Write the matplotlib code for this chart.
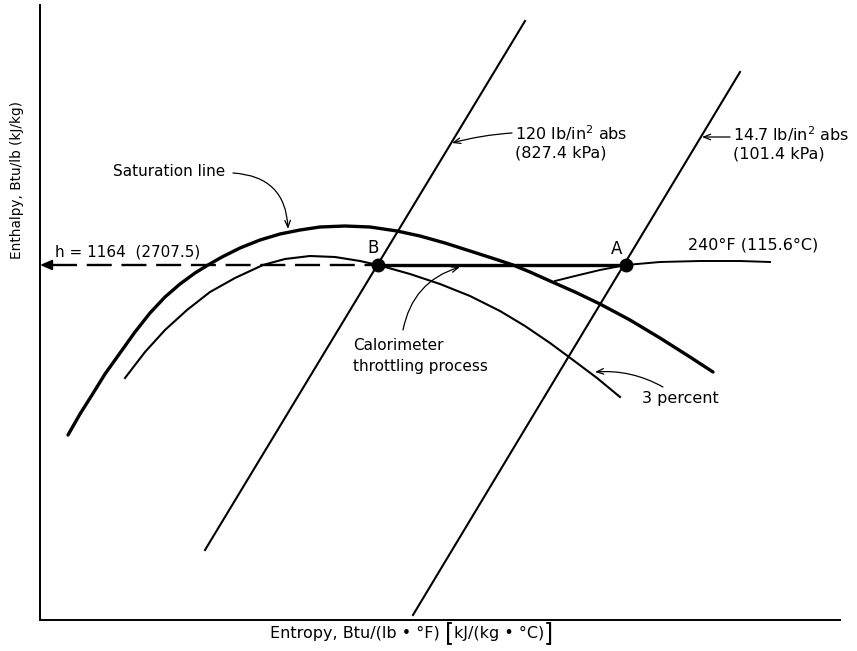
"""
Mollier (h-s) sketch of a throttling calorimeter process.

Schematic only: the values below are read off the reference drawing in
arbitrary entropy / enthalpy units (no ticks on either axis).
"""

import matplotlib

matplotlib.use("Agg")
import matplotlib.pyplot as plt

plt.rcParams["font.family"] = ["DejaVu Sans"]
plt.rcParams["lines.scale_dashes"] = False

# ---------------------------------------------------------------------------
# Data (schematic units)
# ---------------------------------------------------------------------------

# saturation line (thick dome)
sat_s = [28, 40, 52, 65, 80, 95, 110, 125, 140, 155, 168, 182, 200, 220, 240,
         260, 280, 305, 330, 357, 380, 405, 430, 455, 473, 490, 510, 535, 560,
         590, 620, 650, 673]
sat_h = [185, 206, 225, 246, 267, 288, 307, 323, 336, 347, 355, 363, 372, 380,
         386, 390, 393, 394, 393, 389, 384, 377, 369, 361, 355, 348, 339, 328,
         316, 300, 282, 263, 248]

# 3 percent moisture line
moist_s = [85, 105, 125, 147, 170, 195, 223, 245, 270, 295, 320, 338, 370,
           400, 430, 460, 485, 510, 533, 557, 580]
moist_h = [242, 268, 290, 310, 328, 342, 355, 361, 364, 363, 359, 355, 346,
           336, 324, 309, 294, 277, 260, 242, 223]

# 240 F isotherm
iso_s = [515, 535, 560, 586, 620, 660, 700, 730]
iso_h = [339, 344, 350, 355, 358, 359, 359, 358]

# constant pressure lines (end points)
p120_s = [165, 485]
p120_h = [70, 599]
p147_s = [373, 700]
p147_h = [5, 548]

# state points
h_const = 355
point_A = (586, h_const)
point_B = (338, h_const)

# ---------------------------------------------------------------------------
# Figure
# ---------------------------------------------------------------------------

fig = plt.figure(figsize=(8.57, 6.51), dpi=100)
ax = fig.add_axes([40 / 857, 31 / 651, 800 / 857, 615 / 651])
ax.set_xlim(0, 800)
ax.set_ylim(0, 615)
for side in ("top", "right"):
    ax.spines[side].set_visible(False)
for side in ("left", "bottom"):
    ax.spines[side].set_linewidth(1.4)
ax.set_xticks([])
ax.set_yticks([])

ink = "black"
ax.plot(sat_s, sat_h, color=ink, lw=2.4, solid_capstyle="round",
        solid_joinstyle="round")
ax.plot(moist_s, moist_h, color=ink, lw=1.5, solid_joinstyle="round")
ax.plot(iso_s, iso_h, color=ink, lw=1.4, solid_joinstyle="round")
ax.plot(p120_s, p120_h, color=ink, lw=1.5)
ax.plot(p147_s, p147_h, color=ink, lw=1.5)

# throttling process B -> A and the enthalpy read-off
ax.plot([point_B[0], point_A[0]], [h_const, h_const], color=ink, lw=2.4)
ax.plot([12, point_B[0]], [h_const, h_const], color=ink, lw=1.7,
        dashes=(18, 7))
ax.annotate("", xy=(0, h_const), xytext=(16, h_const),
            arrowprops=dict(arrowstyle="-|>,head_length=0.7,head_width=0.3",
                            color=ink, lw=1.4, shrinkA=0, shrinkB=0))
ax.plot(*zip(point_A, point_B), "o", color=ink, ms=9, ls="none")

# ---------------------------------------------------------------------------
# Labels
# ---------------------------------------------------------------------------

fs = 11
ax.text(point_A[0] - 9, point_A[1] + 16, "A", fontsize=12, ha="center", va="center")
ax.text(point_B[0] - 5, point_B[1] + 17, "B", fontsize=12, ha="center", va="center")
ax.text(15, 368, "h = 1164  (2707.5)", fontsize=fs, va="center")
ax.text(648, 375, "240°F (115.6°C)", fontsize=fs + 0.5, va="center")
ax.text(73, 449, "Saturation line", fontsize=fs, va="center")
ax.text(475, 478, "120 lb/in$^2$ abs\n(827.4 kPa)", fontsize=fs + 0.5,
        va="center", linespacing=1.15)
ax.text(693, 477, "14.7 lb/in$^2$ abs\n(101.4 kPa)", fontsize=fs + 0.5,
        va="center", linespacing=1.15)
ax.text(313, 264, "Calorimeter\nthrottling process", fontsize=fs, va="center",
        linespacing=1.45)
ax.text(602, 222, "3 percent", fontsize=fs + 0.5, va="center")

thin_arrow = dict(arrowstyle="->,head_length=0.5,head_width=0.2", color=ink,
                  lw=0.9, shrinkA=0, shrinkB=0)
callouts = [
    ((193, 447), (248, 391), -0.45),   # saturation line
    ((472, 487), (412, 477), 0.05),    # 120 psia
    ((690, 483), (662, 483), 0.0),     # 14.7 psia
    ((363, 290), (420, 353), -0.3),    # throttling process
    ((623, 233), (555, 248), 0.15),    # 3 percent
]
for start, end, rad in callouts:
    ax.annotate("", xy=end, xytext=start,
                arrowprops=dict(thin_arrow, connectionstyle=f"arc3,rad={rad}"))

fig.text(17 / 857, 1 - 180 / 651, "Enthalpy, Btu/lb (kJ/kg)", fontsize=9.8,
         rotation=90, ha="center", va="center")

# x label: plain text plus tall brackets around the SI units
xl_y = 1 - 633 / 651
part = fig.text(270 / 857, xl_y, "Entropy, Btu/(lb • °F) ", fontsize=fs + 0.5,
                ha="left", va="center")
for piece, size in (("[", 17), ("kJ/(kg • °C)", fs + 0.5), ("]", 17)):
    part = ax.annotate(piece, xy=(1, 0.5), xycoords=part, ha="left",
                       va="center", fontsize=size)

fig.savefig("out.png", dpi=100)
